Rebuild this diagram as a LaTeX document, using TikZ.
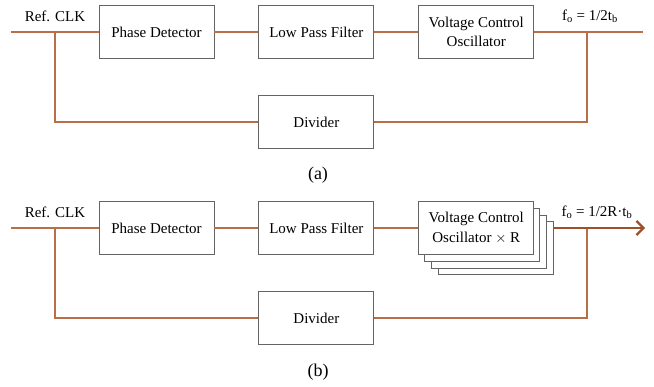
\documentclass[tikz,border=0pt]{standalone}
\usepackage{fontspec}
\setmainfont{Liberation Serif}
\usetikzlibrary{positioning,arrows.meta}
\definecolor{cwire}{RGB}{184,110,70}
\definecolor{cout}{RGB}{158,80,42}
\definecolor{cbox}{RGB}{100,100,100}

\begin{document}
\begin{tikzpicture}[
  x=1pt,y=-1pt,
  font=\fontsize{15}{19.5}\selectfont,
  blk/.style={rectangle,draw=cbox,fill=white,line width=0.9pt,minimum width=115pt,minimum height=53pt,align=center,inner sep=2pt},
  w/.style={draw=cwire,line width=1.3pt},
  wout/.style={draw=cout,line width=2.6pt,-{Straight Barb[length=7pt,width=14pt,line width=2.2pt]}},
  subcap/.style={font=\fontsize{18}{20}\selectfont},
]
\useasboundingbox (0,0) rectangle (654,386);
% --- (a) single oscillator ---
\begin{scope}
  \node[blk] (pd) at (156.5,32) {Phase Detector};
  \node[blk,right=44pt of pd] (lpf) {Low Pass Filter};
  \node[blk,right=44pt of lpf] (vco) {Voltage Control\\Oscillator};
  \node[blk,below=36pt of lpf] (div) {Divider};
  \coordinate (in) at (11,32); \coordinate (jl) at (55,32);
  \coordinate (jr) at (587,32); \coordinate (out) at (643,32);
  \draw[w] (in)--(pd); \draw[w] (pd)--(lpf); \draw[w] (lpf)--(vco); \draw[w] (vco)--(out);
  \draw[w] (jl)|-(div); \draw[w] (jr)|-(div);
  \node (clk) at (55,16.5) {Ref. CLK};
  \node (fo) at (590,16.5) {f\textsubscript{o} = 1/2t\textsubscript{b}};
  \node[subcap] (capa) at (318,175) {(a)};
\end{scope}
% --- (b) R oscillators ---
\begin{scope}
  \node[blk] (pdb) at (156.5,228) {Phase Detector};
  \node[blk,right=44pt of pdb] (lpfb) {Low Pass Filter};
  \foreach \k in {3,2,1}
    \node[blk] (vcob\k) at ({475.5+6.8*\k},{228+6.8*\k}) {};
  \node[blk,right=44pt of lpfb] (vcob) {Voltage Control\\Oscillator $\times$ R};
  \node[blk,below=36pt of lpfb] (divb) {Divider};
  \coordinate (inb) at (11,228); \coordinate (jlb) at (55,228);
  \coordinate (jrb) at (587,228); \coordinate (outb) at (645,228);
  \draw[w] (inb)--(pdb); \draw[w] (pdb)--(lpfb); \draw[w] (lpfb)--(vcob);
  \draw[w] (jlb)|-(divb); \draw[w] (jrb)|-(divb);
  \draw[wout] (vcob3.east |- vcob.east)--(outb);
  \node (clkb) at (55,212.5) {Ref. CLK};
  \node (fob) at (597,212.5) {f\textsubscript{o} = 1/2R·t\textsubscript{b}};
  \node[subcap] (capb) at (318,372) {(b)};
\end{scope}
\end{tikzpicture}
\end{document}
